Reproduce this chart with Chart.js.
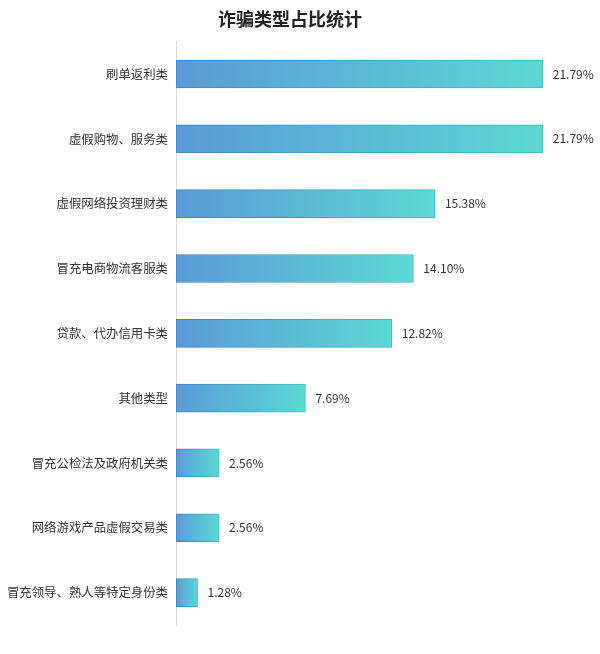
<!DOCTYPE html>
<html>
<head>
<meta charset="utf-8">
<script src="https://cdn.jsdelivr.net/npm/chart.js@4.4.1/dist/chart.umd.min.js"></script>
<style>
html,body{margin:0;padding:0;background:#fff;}
#wrap{width:600px;height:654px;}
</style>
</head>
<body>
<div id="wrap"><canvas id="c" width="600" height="654"></canvas></div>
<script>
const categories = ["刷单返利类","虚假购物、服务类","虚假网络投资理财类","冒充电商物流客服类","贷款、代办信用卡类","其他类型","冒充公检法及政府机关类","网络游戏产品虚假交易类","冒充领导、熟人等特定身份类"];
const values = [21.79,21.79,15.38,14.10,12.82,7.69,2.56,2.56,1.28];
const titleText = "诈骗类型占比统计";

const FONT = "'Noto Sans CJK SC','Noto Sans',sans-serif";

function grad(c, c1, c2){
  const chart = c.chart;
  const xs = chart.scales && chart.scales.x;
  if(!chart.chartArea || !xs || c.parsed === undefined) return c1;
  const x0 = xs.getPixelForValue(0);
  const x1 = xs.getPixelForValue(c.parsed.x);
  if(!isFinite(x0)||!isFinite(x1)||x1-x0<1) return c1;
  const g = chart.ctx.createLinearGradient(x0,0,x1,0);
  g.addColorStop(0,c1); g.addColorStop(1,c2);
  return g;
}

const valueLabels = {
  id:'valueLabels',
  afterDatasetsDraw(chart){
    const ctx = chart.ctx;
    const meta = chart.getDatasetMeta(0);
    ctx.save();
    ctx.font = "12px " + FONT;
    ctx.fillStyle = "#333";
    ctx.textAlign = "left";
    ctx.textBaseline = "middle";
    meta.data.forEach((el,i)=>{
      ctx.fillText(values[i].toFixed(2)+"%", el.x + 10, el.y);
    });
    ctx.restore();
  }
};

new Chart(document.getElementById('c'),{
  type:'bar',
  data:{
    labels:categories,
    datasets:[{
      data:values,
      barThickness:28,
      backgroundColor:(c)=>grad(c, '#5a9bd6', '#5cd8d5'),
      borderColor:(c)=>grad(c, '#3f7fc2', '#3cbdbd'),
      borderWidth:1,
      borderSkipped:false
    }]
  },
  options:{
    indexAxis:'y',
    responsive:false,
    animation:false,
    layout:{padding:{left:0,right:20,top:0,bottom:29}},
    plugins:{
      legend:{display:false},
      tooltip:{enabled:false},
      title:{
        display:true,
        text:titleText,
        color:'#222',
        font:{family:FONT,size:18,weight:'bold'},
        padding:{top:8,bottom:12}
      }
    },
    scales:{
      x:{display:false,min:0,max:24},
      y:{
        grid:{display:false,drawTicks:false},
        border:{display:true,color:'#d9d9d9',width:1},
        ticks:{color:'#333',font:{family:FONT,size:12.4},padding:8},
        afterFit:(s)=>{s.width=176;}
      }
    }
  },
  plugins:[valueLabels]
});
</script>
</body>
</html>
